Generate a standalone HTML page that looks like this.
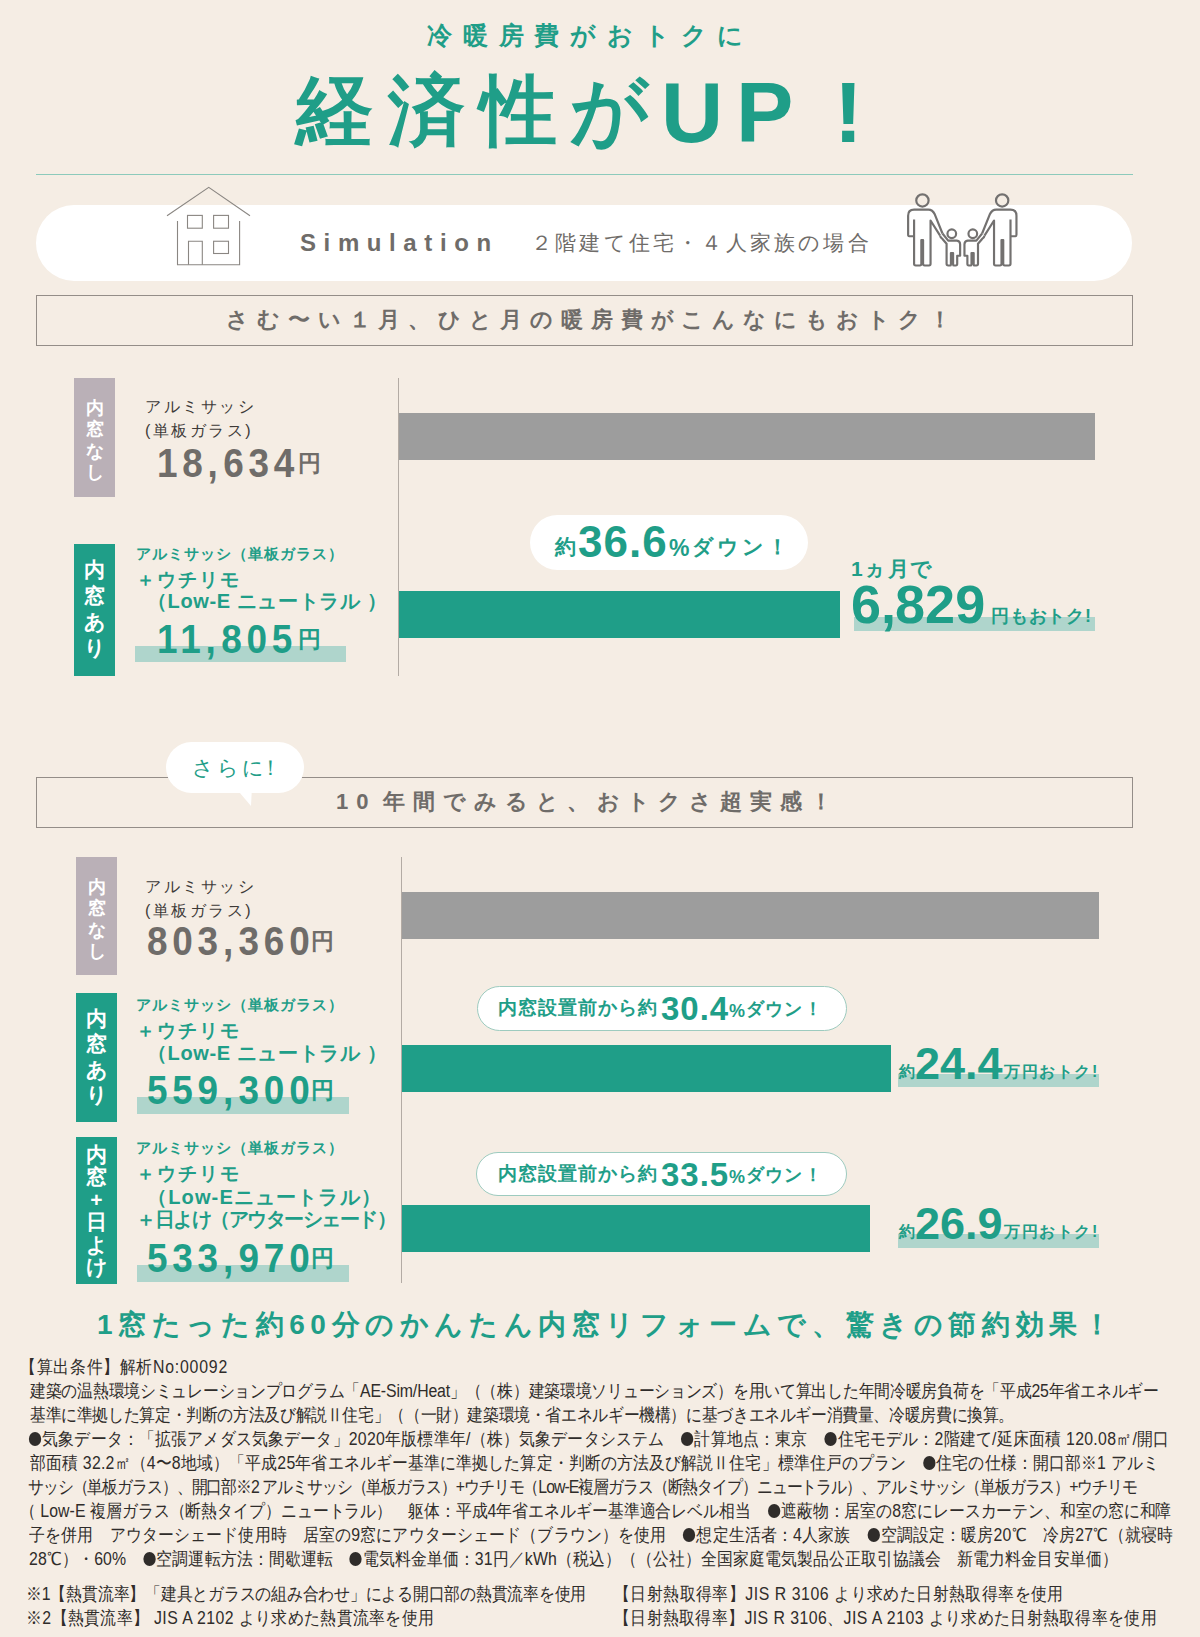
<!DOCTYPE html>
<html lang="ja">
<head>
<meta charset="utf-8">
<style>
html,body{margin:0;padding:0;}
body{width:1200px;height:1637px;position:relative;overflow:hidden;background:#f5ede4;font-family:"Liberation Sans",sans-serif;}
.a{position:absolute;white-space:nowrap;line-height:1;}
.teal{color:#1f9e88;}
.gray{color:#6f6c69;}
.dk{color:#3d3a38;}
.rule{position:absolute;left:36px;top:174px;width:1097px;height:1px;background:#8ccabb;}
.pill{position:absolute;left:36px;top:205px;width:1096px;height:76px;border-radius:38px;background:#fff;}
.box{position:absolute;left:36px;box-sizing:border-box;width:1097px;height:51px;border:1px solid #948d88;}
.lab{position:absolute;width:41px;color:#fff;font-size:18px;font-weight:bold;text-align:center;line-height:21.3px;box-sizing:border-box;}
.lab.m{background:#bab0b7;}
.lab.t{background:#1f9e88;}
.axis{position:absolute;width:1px;background:#b3aba4;}
.bar{position:absolute;}
.g{background:#9d9d9d;}
.t{background:#1f9e88;}
.hl{position:absolute;background:#afd5cc;}
.num{font-weight:bold;}
.wp{position:absolute;background:#fff;border-radius:28px;}
.op{position:absolute;background:#fff;border:1.5px solid #9dcbbf;box-sizing:border-box;border-radius:23px;}
.bl{display:inline-block;width:14px;height:14px;border-radius:50%;background:#2f2c2a;vertical-align:-1px;margin:0 1px;}
.note{position:absolute;left:28px;white-space:nowrap;font-size:18px;line-height:1;color:#2f2c2a;transform:scaleX(0.88);transform-origin:0 0;}
</style>
</head>
<body>
<!-- header -->
<div class="a teal" style="left:427px;top:23px;font-size:25px;letter-spacing:10.8px;font-weight:bold;">冷暖房費がおトクに</div>
<div class="a teal" style="left:296px;top:72px;font-size:77px;font-weight:bold;">経</div>
<div class="a teal" style="left:388px;top:72px;font-size:77px;font-weight:bold;">済</div>
<div class="a teal" style="left:480px;top:72px;font-size:77px;font-weight:bold;">性</div>
<div class="a teal" style="left:570px;top:72px;font-size:77px;font-weight:bold;">が</div>
<div class="a teal" style="left:661px;top:69px;font-size:86px;font-weight:bold;">U</div>
<div class="a teal" style="left:736px;top:69px;font-size:86px;font-weight:bold;">P</div>
<div class="a teal" style="left:834px;top:69px;font-size:86px;font-weight:bold;">!</div>
<div class="rule"></div>

<!-- simulation pill -->
<div class="pill"></div>
<svg class="a" style="left:0;top:0;" width="1200" height="300" viewBox="0 0 1200 300">
 <g fill="none" stroke="#8a8682" stroke-width="1.1">
  <polyline points="167,215.7 208.75,187.3 250,215.7"/>
  <polyline points="177.5,221 177.5,264.8 239.6,264.8 239.6,221"/>
  <rect x="187.5" y="215.4" width="14.8" height="12.8"/>
  <rect x="213.6" y="215.4" width="14.9" height="12.8"/>
  <polyline points="188.5,264.8 188.5,241.25 202.3,241.25 202.3,264.8"/>
  <rect x="213.6" y="241.25" width="14.9" height="12.25"/>
 </g>
</svg>
<svg class="a" style="left:900px;top:188px;" width="130" height="84" viewBox="0 0 1200 775">
 <g id="half" fill="none" stroke="#737170" stroke-width="20" stroke-linejoin="round">
  <circle cx="207" cy="115" r="57"/>
  <path d="M130,445 L85,445 Q75,445 75,430 L75,255 Q75,200 130,200 L262,200 Q300,200 322,245 L392,420"/>
  <path d="M130,290 L130,700 Q130,715 145,715 L183,715 Q197,715 197,700 L197,480 L213,480 L213,700 Q213,715 228,715 L268,715 Q282,715 282,700 L282,300 L370,440"/>
  <circle cx="478" cy="422" r="40"/>
  <path d="M370,440 Q372,458 392,470 L430,515 L430,700 Q430,715 445,715 L462,715 Q470,715 470,705 L470,600 L490,600 L490,705 Q490,715 500,715 L515,715 Q528,715 528,700 L528,625 L555,625 L555,520 Q555,488 525,485 L445,485 L392,420"/>
 </g>
 <g transform="translate(1150,0) scale(-1,1)" fill="none" stroke="#737170" stroke-width="20" stroke-linejoin="round">
  <circle cx="207" cy="115" r="57"/>
  <path d="M130,445 L85,445 Q75,445 75,430 L75,255 Q75,200 130,200 L262,200 Q300,200 322,245 L392,420"/>
  <path d="M130,290 L130,700 Q130,715 145,715 L183,715 Q197,715 197,700 L197,480 L213,480 L213,700 Q213,715 228,715 L268,715 Q282,715 282,700 L282,300 L370,440"/>
  <circle cx="478" cy="422" r="40"/>
  <path d="M370,440 Q372,458 392,470 L430,515 L430,700 Q430,715 445,715 L462,715 Q470,715 470,705 L470,600 L490,600 L490,705 Q490,715 500,715 L515,715 Q528,715 528,700 L528,625 L555,625 L555,520 Q555,488 525,485 L445,485 L392,420"/>
 </g>
</svg>
<div class="a gray" style="left:300px;top:231px;font-size:24px;font-weight:bold;letter-spacing:7.6px;">Simulation</div>
<div class="a gray" style="left:531px;top:232px;font-size:21px;letter-spacing:3.2px;">２階建て住宅・４人家族の場合</div>

<!-- box 1 -->
<div class="box" style="top:295px;"></div>
<div class="a gray" style="left:226px;top:309px;font-size:22px;font-weight:bold;letter-spacing:7.9px;">さむ〜い１月、ひと月の暖房費がこんなにもおトク！</div>

<!-- chart 1 -->
<div class="axis" style="left:398px;top:378px;height:298px;"></div>
<div class="lab m" style="left:74px;top:378px;height:119px;padding-top:20px;">内<br>窓<br>な<br>し</div>
<div class="a dk" style="left:145px;top:399px;font-size:16px;letter-spacing:2.5px;">アルミサッシ</div>
<div class="a dk" style="left:145px;top:423px;font-size:16px;letter-spacing:2.5px;">(単板ガラス)</div>
<div class="a gray num" style="left:157px;top:443px;font-size:41px;letter-spacing:5.3px;transform:scaleX(0.9);transform-origin:0 0;">18<span style="letter-spacing:6px">,</span>634</div>
<div class="a gray" style="left:298px;top:452px;font-size:23px;font-weight:bold;">円</div>
<div class="bar g" style="left:399px;top:413px;width:696px;height:47px;"></div>

<div class="lab t" style="left:74px;top:544px;height:132px;padding-top:13px;font-size:21px;line-height:26px;">内<br>窓<br>あ<br>り</div>
<div class="a teal" style="left:136px;top:546px;font-size:15px;font-weight:bold;letter-spacing:1px;">アルミサッシ（単板ガラス）</div>
<div class="a teal" style="left:136px;top:570px;font-size:19px;letter-spacing:2px;font-weight:bold;">＋ウチリモ</div>
<div class="a teal" style="left:147px;top:591px;font-size:20px;font-weight:bold;letter-spacing:0.6px;">（Low-E ニュートラル ）</div>
<div class="hl" style="left:135px;top:646px;width:211px;height:16px;"></div>
<div class="a teal num" style="left:157px;top:619px;font-size:41px;letter-spacing:5.3px;transform:scaleX(0.9);transform-origin:0 0;">11<span style="letter-spacing:6px">,</span>805</div>
<div class="a teal" style="left:298px;top:628px;font-size:23px;font-weight:bold;">円</div>
<div class="wp" style="left:530px;top:515px;width:278px;height:55px;"></div>
<div class="a teal" style="left:555px;top:536px;font-size:21px;font-weight:bold;">約</div>
<div class="a teal num" style="left:578px;top:520px;font-size:44px;letter-spacing:1px;">36.6</div>
<div class="a teal num" style="left:669px;top:537px;font-size:23px;">%</div>
<div class="a teal" style="left:692px;top:536px;font-size:21px;font-weight:bold;letter-spacing:3px;">ダウン！</div>
<div class="bar t" style="left:399px;top:591px;width:441px;height:47px;"></div>
<div class="a teal" style="left:851px;top:558px;font-size:21px;font-weight:bold;letter-spacing:1.5px;">1ヵ月で</div>
<div class="hl" style="left:854px;top:617px;width:241px;height:14px;"></div>
<div class="a teal num" style="left:851px;top:577px;font-size:54px;letter-spacing:0px;">6<span style="letter-spacing:-1px">,</span>829</div>
<div class="a teal" style="left:991px;top:607px;font-size:18px;font-weight:bold;letter-spacing:0.8px;">円もおトク!</div>

<!-- box 2 -->
<div class="box" style="top:777px;"></div>
<div class="a gray" style="left:336px;top:791px;font-size:22px;font-weight:bold;letter-spacing:7.9px;">1<span style="margin-right:7px">0</span>年間でみると、おトクさ超実感！</div>
<svg class="a" style="left:160px;top:736px;" width="160" height="80" viewBox="0 0 160 80">
 <rect x="6" y="6" width="138" height="51" rx="25.5" fill="#fff"/>
 <path d="M74,50 L92,50 L91,70 Z" fill="#fff"/>
</svg>
<div class="a teal" style="left:192px;top:757px;font-size:21px;letter-spacing:3px;">さらに<span style="margin-left:-7px">！</span></div>

<!-- chart 2 -->
<div class="axis" style="left:401px;top:857px;height:426px;"></div>
<div class="lab m" style="left:76px;top:857px;height:118px;padding-top:20px;">内<br>窓<br>な<br>し</div>
<div class="a dk" style="left:145px;top:879px;font-size:16px;letter-spacing:2.5px;">アルミサッシ</div>
<div class="a dk" style="left:145px;top:903px;font-size:16px;letter-spacing:2.5px;">(単板ガラス)</div>
<div class="a gray num" style="left:147px;top:921px;font-size:41px;letter-spacing:5.3px;transform:scaleX(0.9);transform-origin:0 0;">803<span style="letter-spacing:6px">,</span>360</div>
<div class="a gray" style="left:311px;top:930px;font-size:23px;font-weight:bold;">円</div>
<div class="bar g" style="left:402px;top:892px;width:697px;height:47px;"></div>

<div class="lab t" style="left:76px;top:993px;height:129px;padding-top:13px;font-size:21px;line-height:25.3px;">内<br>窓<br>あ<br>り</div>
<div class="a teal" style="left:136px;top:997px;font-size:15px;font-weight:bold;letter-spacing:1px;">アルミサッシ（単板ガラス）</div>
<div class="a teal" style="left:136px;top:1021px;font-size:19px;letter-spacing:2px;font-weight:bold;">＋ウチリモ</div>
<div class="a teal" style="left:147px;top:1043px;font-size:20px;font-weight:bold;letter-spacing:0.6px;">（Low-E ニュートラル ）</div>
<div class="hl" style="left:137px;top:1097px;width:212px;height:17px;"></div>
<div class="a teal num" style="left:147px;top:1070px;font-size:41px;letter-spacing:5.3px;transform:scaleX(0.9);transform-origin:0 0;">559<span style="letter-spacing:6px">,</span>300</div>
<div class="a teal" style="left:311px;top:1079px;font-size:23px;font-weight:bold;">円</div>
<div class="op" style="left:477px;top:986px;width:370px;height:45px;"></div>
<div class="a teal" style="left:498px;top:998px;font-size:19px;font-weight:bold;letter-spacing:1px;">内窓設置前から約</div>
<div class="a teal num" style="left:661px;top:992px;font-size:33px;letter-spacing:1px;">30.4</div>
<div class="a teal num" style="left:729px;top:1002px;font-size:18px;">%</div>
<div class="a teal" style="left:746px;top:1000px;font-size:18px;font-weight:bold;letter-spacing:1.2px;">ダウン！</div>
<div class="bar t" style="left:402px;top:1045px;width:489px;height:47px;"></div>
<div class="hl" style="left:898px;top:1074px;width:201px;height:13px;"></div>
<div class="a teal" style="left:899px;top:1064px;font-size:16px;font-weight:bold;">約</div>
<div class="a teal num" style="left:915px;top:1041px;font-size:45px;">24.4</div>
<div class="a teal" style="left:1004px;top:1064px;font-size:16px;font-weight:bold;letter-spacing:1.6px;">万円おトク!</div>

<div class="lab t" style="left:76px;top:1137px;height:147px;padding-top:7px;font-size:21px;line-height:22.4px;">内<br>窓<br>+<br>日<br>よ<br>け</div>
<div class="a teal" style="left:136px;top:1140px;font-size:15px;font-weight:bold;letter-spacing:1px;">アルミサッシ（単板ガラス）</div>
<div class="a teal" style="left:136px;top:1164px;font-size:19px;letter-spacing:2px;font-weight:bold;">＋ウチリモ</div>
<div class="a teal" style="left:147px;top:1187px;font-size:20px;font-weight:bold;letter-spacing:1.15px;">（Low-Eニュートラル）</div>
<div class="a teal" style="left:136px;top:1209px;font-size:20px;font-weight:bold;letter-spacing:-1.5px;">＋日よけ（アウターシェード）</div>
<div class="hl" style="left:137px;top:1265px;width:212px;height:17px;"></div>
<div class="a teal num" style="left:147px;top:1238px;font-size:41px;letter-spacing:5.3px;transform:scaleX(0.9);transform-origin:0 0;">533<span style="letter-spacing:6px">,</span>970</div>
<div class="a teal" style="left:311px;top:1247px;font-size:23px;font-weight:bold;">円</div>
<div class="op" style="left:476px;top:1152px;width:371px;height:44px;"></div>
<div class="a teal" style="left:498px;top:1164px;font-size:19px;font-weight:bold;letter-spacing:1px;">内窓設置前から約</div>
<div class="a teal num" style="left:661px;top:1158px;font-size:33px;letter-spacing:1px;">33.5</div>
<div class="a teal num" style="left:729px;top:1168px;font-size:18px;">%</div>
<div class="a teal" style="left:746px;top:1166px;font-size:18px;font-weight:bold;letter-spacing:1.2px;">ダウン！</div>
<div class="bar t" style="left:402px;top:1205px;width:468px;height:47px;"></div>
<div class="hl" style="left:898px;top:1234px;width:201px;height:14px;"></div>
<div class="a teal" style="left:899px;top:1224px;font-size:16px;font-weight:bold;">約</div>
<div class="a teal num" style="left:915px;top:1201px;font-size:45px;">26.9</div>
<div class="a teal" style="left:1004px;top:1224px;font-size:16px;font-weight:bold;letter-spacing:1.6px;">万円おトク!</div>

<!-- footer -->
<div class="a teal" style="left:97px;top:1311px;font-size:28px;font-weight:bold;letter-spacing:5.6px;">1窓たった約60分のかんたん内窓リフォームで、驚きの節約効果！</div>
<div class="note" id="n0" style="left:20.00px;top:1358px;letter-spacing:0.894px;">【算出条件】解析No:00092</div>
<div class="note" id="n1" style="left:30.00px;top:1382px;letter-spacing:-0.146px;">建築の温熱環境シミュレーションプログラム「AE-Sim/Heat」（（株）建築環境ソリューションズ）を用いて算出した年間冷暖房負荷を「平成25年省エネルギー</div>
<div class="note" id="n2" style="left:30.00px;top:1406px;letter-spacing:-0.250px;">基準に準拠した算定・判断の方法及び解説Ⅱ住宅」（（一財）建築環境・省エネルギー機構）に基づきエネルギー消費量、冷暖房費に換算。</div>
<div class="note" id="n3" style="left:28.00px;top:1430px;letter-spacing:0.341px;"><i class="bl"></i>気象データ：「拡張アメダス気象データ」2020年版標準年/（株）気象データシステム　<i class="bl"></i>計算地点：東京　<i class="bl"></i>住宅モデル：2階建て/延床面積 120.08㎡/開口</div>
<div class="note" id="n4" style="left:30.00px;top:1454px;letter-spacing:0.264px;">部面積 32.2㎡（4〜8地域）「平成25年省エネルギー基準に準拠した算定・判断の方法及び解説Ⅱ住宅」標準住戸のプラン　<i class="bl"></i>住宅の仕様：開口部※1 アルミ</div>
<div class="note" id="n5" style="left:28.00px;top:1478px;letter-spacing:-1.100px;">サッシ（単板ガラス）、開口部※2 アルミサッシ（単板ガラス）+ウチリモ（Low-E複層ガラス（断熱タイプ）ニュートラル）、アルミサッシ（単板ガラス）+ウチリモ</div>
<div class="note" id="n6" style="left:20.40px;top:1502px;letter-spacing:0.070px;">（ Low-E 複層ガラス（断熱タイプ）ニュートラル）　躯体：平成4年省エネルギー基準適合レベル相当　<i class="bl"></i>遮蔽物：居室の8窓にレースカーテン、和室の窓に和障</div>
<div class="note" id="n7" style="left:29.00px;top:1526px;letter-spacing:0.304px;">子を併用　アウターシェード使用時　居室の9窓にアウターシェード（ブラウン）を使用　<i class="bl"></i>想定生活者：4人家族　<i class="bl"></i>空調設定：暖房20℃　冷房27℃（就寝時</div>
<div class="note" id="n8" style="left:29.30px;top:1550px;letter-spacing:0.199px;">28℃）・60%　<i class="bl"></i>空調運転方法：間歇運転　<i class="bl"></i>電気料金単価：31円／kWh（税込）（（公社）全国家庭電気製品公正取引協議会　新電力料金目安単価）</div>
<div class="note" id="n9" style="left:25.50px;top:1585px;letter-spacing:-0.095px;">※1【熱貫流率】「建具とガラスの組み合わせ」による開口部の熱貫流率を使用</div>
<div class="note" id="n10" style="left:25.50px;top:1609px;letter-spacing:0.492px;">※2【熱貫流率】 JIS A 2102 より求めた熱貫流率を使用</div>
<div class="note" id="n11" style="left:614.40px;top:1585px;letter-spacing:0.641px;">【日射熱取得率】JIS R 3106 より求めた日射熱取得率を使用</div>
<div class="note" id="n12" style="left:614.40px;top:1609px;letter-spacing:0.520px;">【日射熱取得率】JIS R 3106、JIS A 2103 より求めた日射熱取得率を使用</div>
</body>
</html>
